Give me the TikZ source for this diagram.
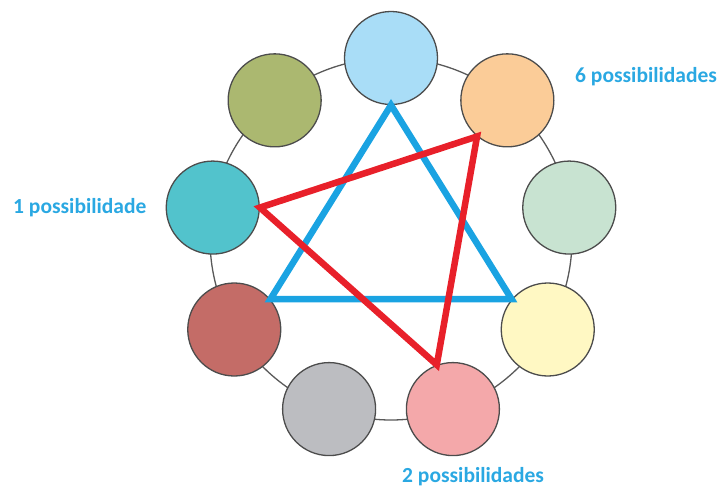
\documentclass[tikz,border=0pt]{standalone}
\usepackage{fontspec}
\setmainfont{Carlito}

\definecolor{skyC}{HTML}{A9DDF7}
\definecolor{peachC}{HTML}{FBCC98}
\definecolor{mintC}{HTML}{C8E3D1}
\definecolor{creamC}{HTML}{FFF8C3}
\definecolor{roseC}{HTML}{F4A8AA}
\definecolor{greyC}{HTML}{BCBDC1}
\definecolor{brickC}{HTML}{C46C67}
\definecolor{tealC}{HTML}{52C3CC}
\definecolor{oliveC}{HTML}{ABB870}
\definecolor{lineblue}{HTML}{1AA3E2}
\definecolor{linered}{HTML}{E8202A}
\definecolor{txtblue}{HTML}{2AA8E2}

\tikzset{
  ring/.style={draw=black!65,line width=1.3pt},
  disc/.style={circle,minimum size=93pt,inner sep=0pt,draw=black!70,line width=1.3pt},
  tri/.style={line width=6.5pt},
  lbl/.style={anchor=base west,inner sep=0pt,text=txtblue,font=\fontsize{21.5}{24}\selectfont\bfseries}
}

\begin{document}
\begin{tikzpicture}[x=1pt,y=1pt]
\useasboundingbox (0,0) rectangle (722,488);

\coordinate (o) at (391,249);
\draw[ring] (o) circle (181);

% the nine colour discs round the ring
\foreach \n/\a/\c in {0/90/skyC,1/50/peachC,2/10/mintC,3/-30/creamC,4/-70/roseC,
                      5/-110/greyC,6/-150/brickC,7/170/tealC,8/130/oliveC}{
  \node[disc,fill=\c] (c\n) at ([shift={(\a:181)}]o) {};
}

% triangles
\draw[tri,lineblue] (c0.270) -- (c3.140) -- (c6.40) -- cycle;
\draw[tri,linered] (c1.230) -- (c7.0) -- (c4.110) -- cycle;

% labels
\node[lbl] (six) at (575,405) {6 possibilidades};
\node[lbl] (one) at (13,275) {1 possibilidade};
\node[lbl] (two) at (402,6) {2 possibilidades};

\end{tikzpicture}
\end{document}
